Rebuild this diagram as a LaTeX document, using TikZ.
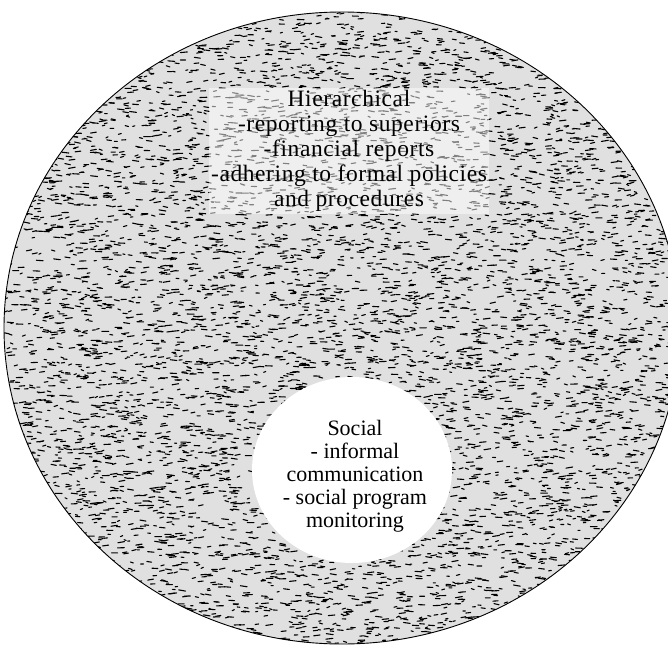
\documentclass[tikz,border=0pt]{standalone}
\usepackage{fontspec}
\setmainfont{Liberation Serif}

\begin{document}
\begin{tikzpicture}[x=1pt, y=1pt,
  grain/.style={line width=1.1pt, line cap=round, black},
  ring text/.style={align=center, inner sep=2pt, font=\fontsize{23.5}{25}\selectfont\addfontfeatures{LetterSpace=2.5}},
  core text/.style={align=center, inner sep=2pt, font=\fontsize{22}{23}\selectfont}]
\useasboundingbox (0,0) rectangle (668,646);
\clip (0,0) rectangle (668,646);
% hierarchical field
\begin{scope}
\clip (342,318) ellipse [x radius=338, y radius=316];
\fill[black!12] (0,0) rectangle (680,646);
\pgfmathsetseed{42}
\foreach \k in {1,...,8000}{
  \pgfmathsetmacro\gx{342+338*rand}
  \pgfmathsetmacro\gy{318+316*rand}
  \pgfmathsetmacro\gl{2+5*rnd}
  \pgfmathsetmacro\gs{1.2*rand}
  \draw[grain] (\gx,\gy) -- ++(\gl,\gs);
}
\end{scope}
\draw[line width=0.9pt] (342,318) ellipse [x radius=338, y radius=316];
% social core
\fill[white] (352,176) ellipse [x radius=100, y radius=93];
\node[ring text, fill=white, fill opacity=.5, text opacity=1] (H1) at (349,495)
  {Hierarchical\\-reporting to superiors\\-financial reports\\-adhering to formal policies\\and procedures};
\node[core text] (S1) at (355,170)
  {Social\\- informal\\communication\\- social program\\monitoring};
\end{tikzpicture}
\end{document}
